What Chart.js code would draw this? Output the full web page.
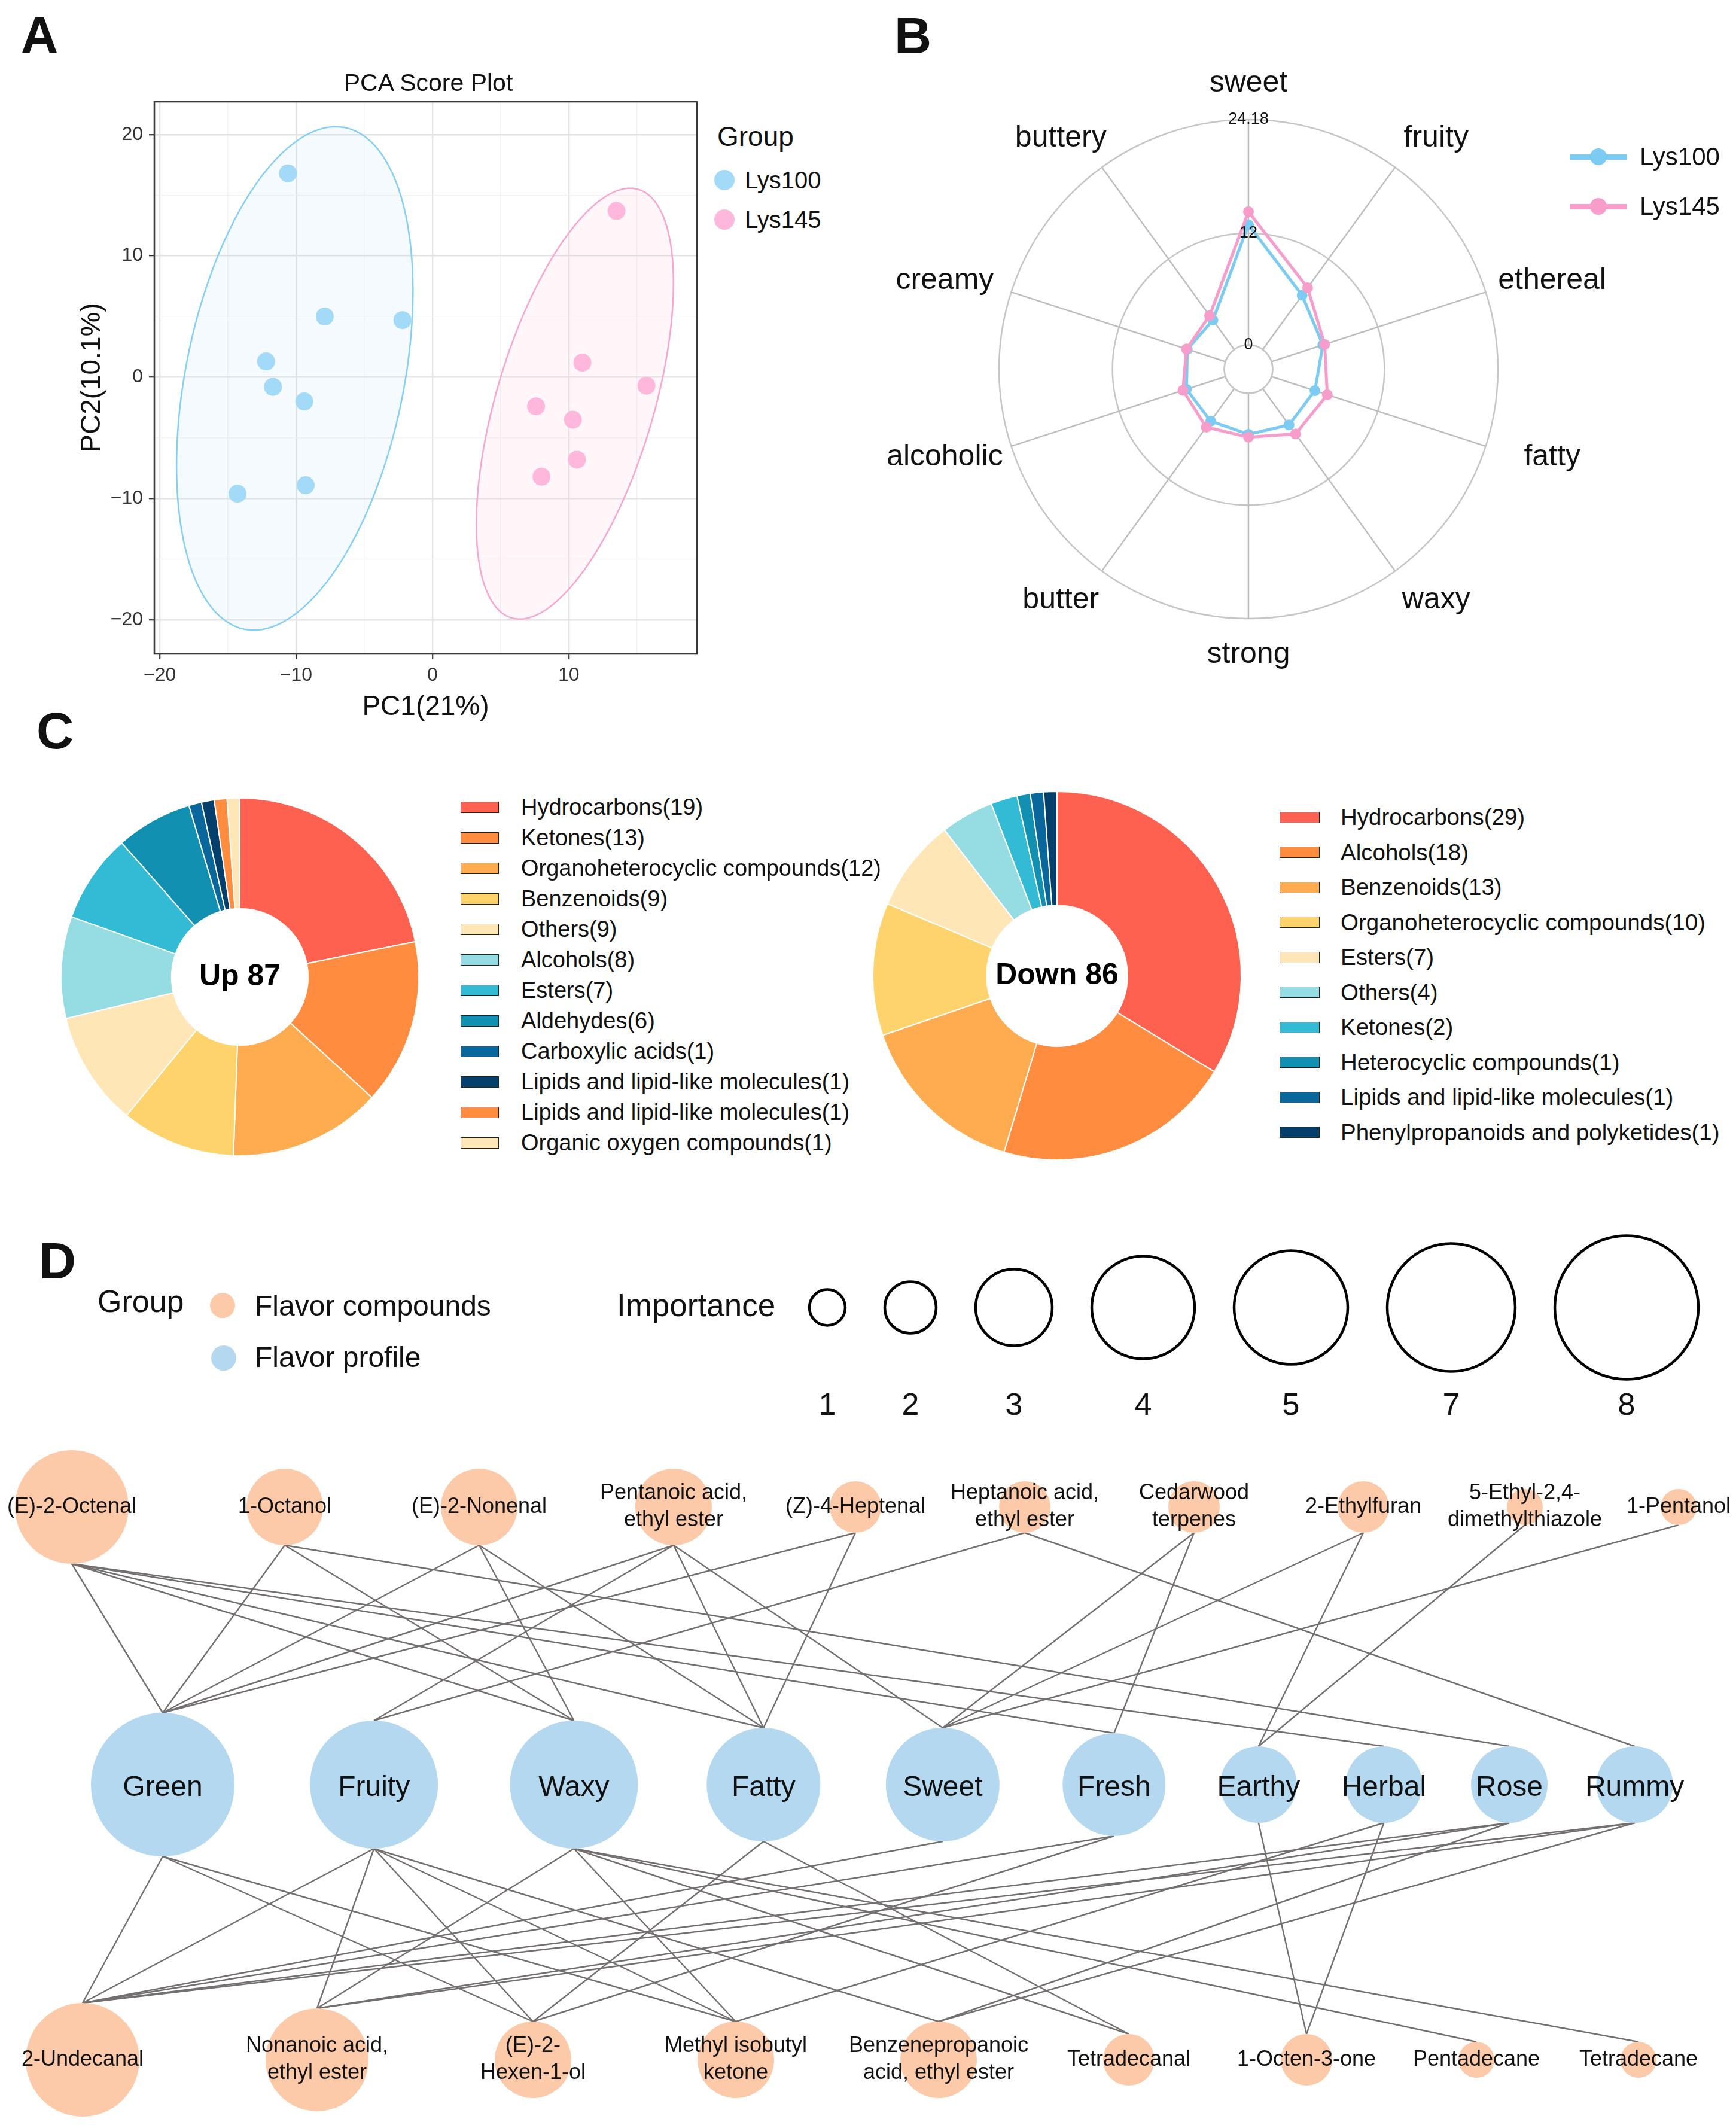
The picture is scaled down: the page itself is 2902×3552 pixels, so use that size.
<!DOCTYPE html>
<html>
<head>
<meta charset="utf-8">
<script src="https://cdn.jsdelivr.net/npm/chart.js@4.4.1/dist/chart.umd.min.js"></script>
<style>
  html, body { margin: 0; padding: 0; background: #fff; }
  #page { position: relative; width: 2902px; height: 3552px; overflow: hidden;
          font-family: "Liberation Sans", Arial, sans-serif; color: #111; }
  .txt { position: absolute; white-space: nowrap; line-height: 1; }
  .sw { position: absolute; box-sizing: border-box; border: 1.5px solid #222; }
  .dot { position: absolute; border-radius: 50%; }
</style>
</head>
<body>
<div id="page"></div>
<script>
// ---------- A: PCA scores ----------
const pcaGroups = ['Lys100', 'Lys145'];
const pcaLys100X = [-10.6, -7.9, -2.2, -12.2, -11.7, -9.4, -9.3, -14.3];
const pcaLys100Y = [16.8, 5.0, 4.7, 1.3, -0.8, -2.0, -8.9, -9.6];
const pcaLys145X = [13.5, 11.0, 15.7, 7.6, 10.3, 10.6, 8.0];
const pcaLys145Y = [13.7, 1.2, -0.7, -2.4, -3.5, -6.8, -8.2];
// confidence ellipses: centre x, centre y, half width, half height, correlation
const ellipseLys100 = [-10.1, -0.1, 8.67, 20.74, 0.347];
const ellipseLys145 = [10.45, -2.18, 7.23, 17.75, 0.56];

// ---------- B: odour radar ----------
const radarLabels = ['sweet', 'fruity', 'ethereal', 'fatty', 'waxy', 'strong', 'butter', 'alcoholic', 'creamy', 'buttery'];
const radarLys100 = [12.9, 7.2, 5.8, 4.9, 4.8, 4.4, 4.3, 4.4, 4.3, 3.9];
const radarLys145 = [14.3, 8.2, 6.0, 6.3, 6.0, 4.7, 5.1, 4.8, 4.4, 4.5];
const radarTicks = [0, 12, 24.18];

// ---------- C: compound classes ----------
const upLabels = ['Hydrocarbons', 'Ketones', 'Organoheterocyclic compounds', 'Benzenoids', 'Others', 'Alcohols', 'Esters', 'Aldehydes', 'Carboxylic acids', 'Lipids and lipid-like molecules', 'Lipids and lipid-like molecules', 'Organic oxygen compounds'];
const upCounts = [19, 13, 12, 9, 9, 8, 7, 6, 1, 1, 1, 1];
const downLabels = ['Hydrocarbons', 'Alcohols', 'Benzenoids', 'Organoheterocyclic compounds', 'Esters', 'Others', 'Ketones', 'Heterocyclic compounds', 'Lipids and lipid-like molecules', 'Phenylpropanoids and polyketides'];
const downCounts = [29, 18, 13, 10, 7, 4, 2, 1, 1, 1];

// ---------- D: compound / profile network ----------
const topCompounds = ['(E)-2-Octenal', '1-Octanol', '(E)-2-Nonenal', 'Pentanoic acid,\nethyl ester', '(Z)-4-Heptenal', 'Heptanoic acid,\nethyl ester', 'Cedarwood\nterpenes', '2-Ethylfuran', '5-Ethyl-2,4-\ndimethylthiazole', '1-Pentanol'];
const topImportance = [5, 3, 3, 3, 2, 2, 2, 2, 1, 1];
const profiles = ['Green', 'Fruity', 'Waxy', 'Fatty', 'Sweet', 'Fresh', 'Earthy', 'Herbal', 'Rose', 'Rummy'];
const profileImportance = [8, 7, 7, 5, 5, 4, 3, 3, 3, 3];
const bottomCompounds = ['2-Undecanal', 'Nonanoic acid,\nethyl ester', '(E)-2-\nHexen-1-ol', 'Methyl isobutyl\nketone', 'Benzenepropanoic\nacid, ethyl ester', 'Tetradecanal', '1-Octen-3-one', 'Pentadecane', 'Tetradecane'];
const bottomImportance = [5, 4, 3, 3, 3, 2, 2, 1, 1];
// [top compound, profile]
const topLinks = [[0,0],[0,2],[0,3],[0,5],[0,7],[1,0],[1,2],[1,8],[2,0],[2,2],[2,3],[3,0],[3,1],[3,3],[3,4],[4,0],[4,3],[5,1],[5,9],[6,4],[6,5],[7,4],[7,6],[8,6],[9,4]];
// [profile, bottom compound]
const bottomLinks = [[0,0],[0,2],[0,3],[1,0],[1,1],[1,2],[1,3],[1,4],[2,1],[2,3],[2,5],[2,7],[2,8],[3,2],[3,5],[4,0],[5,0],[5,2],[6,6],[7,6],[7,3],[8,0],[8,1],[8,4],[9,0],[9,1],[9,4]];
const importanceLevels = [1, 2, 3, 4, 5, 7, 8];

// ---------- styling ----------
const FONT = '"Liberation Sans", Arial, sans-serif';
const BLUE_PT = '#a2daf7', PINK_PT = '#ffb8db';
const BLUE_LN = '#7ccbf3', PINK_LN = '#f79dcb';
const PEACH = '#fdcaa9', SKY = '#b3d8f0';
const classColors = ['#ff6150', '#ff8c3f', '#ffab4f', '#ffd36c', '#ffe6b7', '#95dce3', '#33bbd6', '#1190b2', '#0a679c', '#053f6c'];
const upColors = classColors.concat(['#ff8c3f', '#ffe6b7']);
const downColors = classColors;

Chart.defaults.font.family = FONT;
Chart.defaults.color = '#111';
Chart.defaults.animation = false;
Chart.defaults.responsive = false;
Chart.defaults.layout.autoPadding = false;
Chart.defaults.plugins.legend.display = false;
Chart.defaults.plugins.tooltip.enabled = false;

const page = document.getElementById('page');
function canvasAt(left, top, w, h) {
  const c = document.createElement('canvas');
  c.width = w; c.height = h;
  c.style.cssText = `position:absolute;left:${left}px;top:${top}px;width:${w}px;height:${h}px;`;
  page.appendChild(c);
  return c;
}
function label(text, x, y, size, o = {}) {
  const d = document.createElement('div');
  d.className = 'txt';
  d.textContent = text;
  d.style.left = x + 'px';
  d.style.top = y + 'px';
  d.style.fontSize = size + 'px';
  if (o.bold) d.style.fontWeight = 'bold';
  d.style.transform = o.center ? 'translate(-50%,-50%)' : 'translate(0,-50%)';
  page.appendChild(d);
}
function dot(x, y, r, color) {
  const d = document.createElement('div');
  d.className = 'dot';
  d.style.cssText += `left:${x - r}px;top:${y - r}px;width:${2 * r}px;height:${2 * r}px;background:${color};`;
  page.appendChild(d);
}
function swatch(x, y, w, h, color) {
  const d = document.createElement('div');
  d.className = 'sw';
  d.style.cssText += `left:${x}px;top:${y - h / 2}px;width:${w}px;height:${h}px;background:${color};`;
  page.appendChild(d);
}

// panel letters
label('A', 35, 58, 86, {bold: true});
label('B', 1495, 59, 86, {bold: true});
label('C', 61, 1221, 86, {bold: true});
label('D', 65, 2107, 86, {bold: true});

// ================= A =================
const ellipsePlugin = {
  id: 'ellipses',
  beforeDatasetsDraw(chart, args, opts) {
    const {ctx, scales: {x, y}} = chart;
    opts.items.forEach(([cx, cy, sx, sy, r], i) => {
      ctx.save();
      ctx.beginPath();
      for (let k = 0; k <= 200; k++) {
        const t = k / 200 * Math.PI * 2;
        const px = x.getPixelForValue(cx + sx * Math.cos(t));
        const py = y.getPixelForValue(cy + sy * (r * Math.cos(t) + Math.sqrt(1 - r * r) * Math.sin(t)));
        if (k) ctx.lineTo(px, py); else ctx.moveTo(px, py);
      }
      ctx.closePath();
      ctx.fillStyle = opts.fills[i];
      ctx.fill();
      ctx.strokeStyle = opts.strokes[i];
      ctx.lineWidth = 2.5;
      ctx.stroke();
      ctx.restore();
    });
  }
};
const framePlugin = {
  id: 'frame',
  afterDatasetsDraw(chart) {
    const {ctx, chartArea: a} = chart;
    ctx.save();
    ctx.strokeStyle = '#3a3a3a';
    ctx.lineWidth = 2.6;
    ctx.strokeRect(a.left, a.top, a.right - a.left, a.bottom - a.top);
    ctx.restore();
  }
};
const isMajor = c => c.tick && Math.abs(c.tick.value % 10) < 1e-9;
const gridOpts = {
  color: c => isMajor(c) ? '#e3e3e3' : '#f1f1f1',
  lineWidth: c => isMajor(c) ? 2.4 : 1.3,
  tickLength: 9,
  tickColor: c => isMajor(c) ? '#333' : 'rgba(0,0,0,0)',
  tickWidth: 2.2
};
const tickFmt = v => (Math.abs(v % 10) < 1e-9 ? String(v).replace('-', '\u2212') : '');

new Chart(canvasAt(127, 100, 1043, 1110), {
  type: 'scatter',
  data: {
    datasets: [
      {label: pcaGroups[0], data: pcaLys100X.map((v, i) => ({x: v, y: pcaLys100Y[i]})), backgroundColor: BLUE_PT, pointRadius: 15, borderWidth: 0},
      {label: pcaGroups[1], data: pcaLys145X.map((v, i) => ({x: v, y: pcaLys145Y[i]})), backgroundColor: PINK_PT, pointRadius: 15, borderWidth: 0}
    ]
  },
  options: {
    layout: {padding: {top: 70, right: 5}},
    scales: {
      x: {
        min: -20.4, max: 19.4,
        afterFit: s => { s.height = 117; },
        ticks: {stepSize: 5, includeBounds: false, padding: 8, autoSkip: false, maxRotation: 0, font: {size: 32}, color: '#333', callback: tickFmt},
        grid: gridOpts,
        border: {display: false},
        title: {display: true, text: 'PC1(21%)', font: {size: 46}, color: '#111', padding: 0}
      },
      y: {
        min: -22.8, max: 22.7,
        afterFit: s => { s.width = 131; },
        ticks: {stepSize: 5, includeBounds: false, padding: 10, autoSkip: false, font: {size: 32}, color: '#333', callback: tickFmt},
        grid: gridOpts,
        border: {display: false},
        title: {display: true, text: 'PC2(10.1%)', font: {size: 46}, color: '#111', padding: 0}
      }
    },
    plugins: {
      ellipses: {
        items: [ellipseLys100, ellipseLys145],
        fills: ['rgba(190,225,248,0.16)', 'rgba(255,200,226,0.16)'],
        strokes: ['#86cff4', '#f7a6cf']
      }
    }
  },
  plugins: [ellipsePlugin, framePlugin]
});
label('PCA Score Plot', 716, 138, 41, {center: true});
label('Group', 1199, 228, 46);
dot(1211, 301, 17, BLUE_PT); label(pcaGroups[0], 1245, 301, 40);
dot(1211, 367, 17, PINK_PT); label(pcaGroups[1], 1245, 367, 40);

// ================= B =================
const radarMax = radarTicks[radarTicks.length - 1];
const radarHole = 0.097;                       // empty core, share of the radius
const radarMin = -radarHole * radarMax / (1 - radarHole);
const radarHolePlugin = {
  id: 'radarHole',
  beforeDatasetsDraw(chart) {
    const s = chart.scales.r, ctx = chart.ctx;
    const r0 = s.getDistanceFromCenterForValue(0);
    ctx.save();
    ctx.beginPath();
    ctx.arc(s.xCenter, s.yCenter, r0 - 1.3, 0, Math.PI * 2);
    ctx.fillStyle = '#fff';
    ctx.fill();
    ctx.beginPath();
    ctx.arc(s.xCenter, s.yCenter, r0, 0, Math.PI * 2);
    ctx.strokeStyle = '#c6c6c6';
    ctx.lineWidth = 2.5;
    ctx.stroke();
    ctx.restore();
  }
};
// category names sit on a slightly wide oval around the outer ring
const radarLabelPlugin = {
  id: 'radarLabels',
  afterDraw(chart) {
    const s = chart.scales.r, ctx = chart.ctx;
    ctx.save();
    ctx.font = `50px ${FONT}`;
    ctx.fillStyle = '#111';
    ctx.textAlign = 'center';
    ctx.textBaseline = 'middle';
    const n = chart.data.labels.length;
    chart.data.labels.forEach((lab, i) => {
      const a = i / n * Math.PI * 2;
      ctx.fillText(lab, s.xCenter + Math.sin(a) * s.drawingArea * 1.28, s.yCenter - Math.cos(a) * s.drawingArea * 1.145);
    });
    ctx.restore();
  }
};
new Chart(canvasAt(1467, 37, 1240, 1160), {
  type: 'radar',
  data: {
    labels: radarLabels,
    datasets: [
      {label: 'Lys145', data: radarLys145, borderColor: PINK_LN, backgroundColor: PINK_LN, pointBackgroundColor: PINK_LN, pointBorderWidth: 0, pointRadius: 9, borderWidth: 5, fill: false, order: 0},
      {label: 'Lys100', data: radarLys100, borderColor: BLUE_LN, backgroundColor: BLUE_LN, pointBackgroundColor: BLUE_LN, pointBorderWidth: 0, pointRadius: 9, borderWidth: 5, fill: false, order: 1}
    ]
  },
  options: {
    layout: {padding: {left: 187, right: 187, top: 147, bottom: 147}},
    elements: {line: {tension: 0}},
    scales: {
      r: {
        min: radarMin, max: radarMax,
        afterBuildTicks: s => { s.ticks = [radarMin].concat(radarTicks).map(v => ({value: v})); },
        ticks: {z: 1, font: {size: 27}, color: '#111', showLabelBackdrop: false, callback: v => (v === radarMin ? '' : String(v))},
        grid: {circular: true, color: '#c6c6c6', lineWidth: 2.5},
        angleLines: {color: '#bdbdbd', lineWidth: 2.5},
        pointLabels: {display: false}
      }
    }
  },
  plugins: [radarHolePlugin, radarLabelPlugin]
});
// legend B
[[pcaGroups[0], BLUE_LN, 262], [pcaGroups[1], PINK_LN, 345]].forEach(([name, col, y]) => {
  const ln = document.createElement('div');
  ln.style.cssText = `position:absolute;left:2624px;top:${y - 4.5}px;width:96px;height:9px;background:${col};`;
  page.appendChild(ln);
  dot(2672, y, 14, col);
  label(name, 2741, y, 42);
});

// ================= C =================
const centerTextPlugin = {
  id: 'centerText',
  afterDraw(chart, args, opts) {
    const arc = chart.getDatasetMeta(0).data[0];
    const ctx = chart.ctx;
    ctx.save();
    ctx.font = `bold 50px ${FONT}`;
    ctx.fillStyle = '#000';
    ctx.textAlign = 'center';
    ctx.textBaseline = 'middle';
    ctx.fillText(opts.text, arc.x, arc.y);
    ctx.restore();
  }
};
function donut(canvas, labels, counts, colors, text, radius, cutout) {
  new Chart(canvas, {
    type: 'doughnut',
    data: {labels, datasets: [{data: counts, backgroundColor: colors, borderColor: '#fff', borderWidth: 2}]},
    options: {radius, cutout, rotation: 0, plugins: {centerText: {text}}},
    plugins: [centerTextPlugin]
  });
}
const sum = a => a.reduce((s, v) => s + v, 0);
donut(canvasAt(91, 1323, 620, 620), upLabels, upCounts, upColors, 'Up ' + sum(upCounts), 299, 118);
donut(canvasAt(1447, 1311, 640, 640), downLabels, downCounts, downColors, 'Down ' + sum(downCounts), 308, 122);
upLabels.forEach((name, i) => {
  const y = 1349 + 51 * i;
  swatch(770, y, 64, 19, upColors[i]);
  label(`${name}(${upCounts[i]})`, 871, y, 38);
});
downLabels.forEach((name, i) => {
  const y = 1366 + 58.5 * i;
  swatch(2139, y, 67, 19, downColors[i]);
  label(`${name}(${downCounts[i]})`, 2241, y, 38.5);
});

// ================= D =================
const sizeLevels = [1, 2, 3, 4, 5, 7, 8];
const sizeRadii = [30, 43, 64, 86, 95, 107, 120];
const sizeOf = v => sizeRadii[sizeLevels.indexOf(v)];
// lay a row of circles out from left to right, spacing grows with the radii
function packRow(radii, start, gap, factor) {
  const xs = [start];
  for (let i = 1; i < radii.length; i++) xs.push(xs[i - 1] + (radii[i - 1] + radii[i]) * (1 + factor) + gap);
  return xs;
}
const topR = topImportance.map(sizeOf), midR = profileImportance.map(sizeOf);
const botR = bottomImportance.map(sizeOf), legR = importanceLevels.map(sizeOf);
const topX = packRow(topR, 120, 197, 0);
const midX = packRow(midR, 272, 24, 0.45);
const botX = packRow(botR, 138, 211, 0);
const legX = packRow(legR, 1383, 66, 0);
const TOP_Y = 2519, MID_Y = 2983, BOT_Y = 3443, LEG_Y = 2185.5;

const edge = (x1, y1, x2, y2) => ({
  type: 'line', data: [{x: x1, y: y1}, {x: x2, y: y2}],
  borderColor: '#736f6f', borderWidth: 2.4, pointRadius: 0, order: 5
});
const nodeLabelPlugin = {
  id: 'nodeLabels',
  afterDatasetsDraw(chart) {
    const {ctx, scales: {x, y}} = chart;
    ctx.save();
    ctx.fillStyle = '#111';
    ctx.textAlign = 'center';
    ctx.textBaseline = 'middle';
    const put = (names, xs, cy, size) => {
      ctx.font = `${size}px ${FONT}`;
      names.forEach((name, i) => {
        const lines = name.split('\n');
        lines.forEach((ln, k) => {
          ctx.fillText(ln, x.getPixelForValue(xs[i]), y.getPixelForValue(cy) + (k - (lines.length - 1) / 2) * size * 1.25);
        });
      });
    };
    put(topCompounds, topX, TOP_Y, 36);
    put(profiles, midX, MID_Y + 6, 48);
    put(bottomCompounds, botX, BOT_Y, 36);
    put(importanceLevels.map(String), legX, 2351, 52);
    ctx.restore();
  }
};
new Chart(canvasAt(0, 2040, 2902, 1512), {
  type: 'bubble',
  data: {
    datasets: [
      ...topLinks.map(([s, t]) => edge(topX[s], TOP_Y + topR[s], midX[t], MID_Y - midR[t])),
      ...bottomLinks.map(([s, t]) => edge(midX[s], MID_Y + midR[s], botX[t], BOT_Y - botR[t])),
      {label: 'Flavor compounds', data: topX.map((v, i) => ({x: v, y: TOP_Y, r: topR[i]})), backgroundColor: PEACH, borderWidth: 0, order: 1},
      {label: 'Flavor profile', data: midX.map((v, i) => ({x: v, y: MID_Y, r: midR[i]})), backgroundColor: SKY, borderWidth: 0, order: 1},
      {label: 'Flavor compounds', data: botX.map((v, i) => ({x: v, y: BOT_Y, r: botR[i]})), backgroundColor: PEACH, borderWidth: 0, order: 1},
      {label: 'Importance', data: legX.map((v, i) => ({x: v, y: LEG_Y, r: legR[i]})), backgroundColor: 'rgba(0,0,0,0)', borderColor: '#000', borderWidth: 4.5, order: 1}
    ]
  },
  options: {
    scales: {
      x: {min: 0, max: 2902, display: false},
      y: {min: 2040, max: 3552, reverse: true, display: false}
    },
    elements: {point: {hoverRadius: 0}}
  },
  plugins: [nodeLabelPlugin]
});
label('Group', 163, 2175, 52);
dot(372, 2181.5, 21, PEACH); label('Flavor compounds', 426, 2183, 48);
dot(374, 2270, 21, SKY); label('Flavor profile', 426, 2269, 48);
label('Importance', 1031, 2181, 53);
</script>
</body>
</html>
